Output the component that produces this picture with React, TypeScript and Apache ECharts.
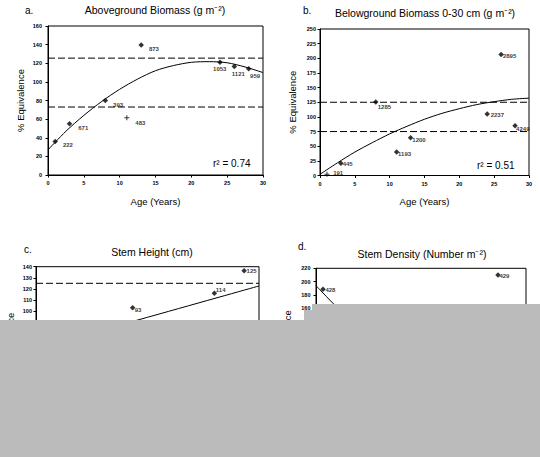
import React, { useEffect, useRef } from 'react';
import * as echarts from 'echarts';

// ---------- data ----------
const AGE_A = [1, 3, 8, 11, 13, 24, 26, 28];
const EQ_A = [36, 55, 80, 61.5, 139.7, 121, 116.5, 114];
const LBL_A = ['222', '671', '393', '483', '873', '1053', '1121', '959'];
const TREND_X_A = [0, 2.5, 5, 7.5, 10, 12.5, 15, 17.5, 20, 22.5, 25, 27.5, 30];
const TREND_A = [27, 47, 64, 79, 92, 103, 112, 117.5, 121, 121.7, 120.5, 116, 110];

const AGE_B = [1, 3, 8, 11, 13, 24, 26, 28];
const EQ_B = [2.3, 21, 125.6, 40, 64.5, 105, 206.6, 85];
const LBL_B = ['191', '445', '1285', '1193', '1200', '2237', '2895', '4249'];
const TREND_X_B = [0, 2.5, 5, 7.5, 10, 12.5, 15, 17.5, 20, 22.5, 25, 27.5, 30];
const TREND_B = [2, 21.6, 40, 56, 71, 84, 96, 106, 114, 121, 126, 130, 132];

const AGE_C = [13, 24, 28];
const EQ_C = [103, 116, 136.4];
const LBL_C = ['93', '114', '125'];
const TREND_X_C = [0, 30];
const TREND_C = [66, 122.6];

const AGE_D = [1, 26];
const EQ_D = [188.5, 210];
const LBL_D = ['428', '429'];
const TREND_X_D = [0, 1, 3, 6, 10, 20, 30];
const TREND_D = [194, 183, 162, 140, 120, 105, 100];

const EQUIV_LEVELS = [125, 75];
const EQUIV_LEVELS_A = [125.5, 73];

const Y_MAX = [160, 250, 140, 220];
const Y_STEP = [20, 25, 10, 20];

const TITLES = [
  'Aboveground Biomass (g m⁻²)',
  'Belowground Biomass 0-30 cm (g m⁻²)',
  'Stem Height (cm)',
  'Stem Density (Number m⁻²)',
];
const LETTERS = ['a.', 'b.', 'c.', 'd.'];
const R2 = ['r² = 0.74', 'r² = 0.51'];

// ---------- layout / style ----------
const FONT = '"Liberation Sans", Arial, Helvetica, sans-serif';
const GRIDS = [
  { left: 48, top: 26, width: 215, height: 149 },
  { left: 320, top: 29, width: 209, height: 146.5 },
  { left: 36, top: 266.7, width: 223, height: 155 },
  { left: 316, top: 268.3, width: 210, height: 146.7 },
];
const Y_LABEL_MARGIN = [6, 4, 4, 5.5];
const Y_NAME_GAP = [23, 23, 21, 24];
const PLUS_POINTS: Record<number, number[]> = { 0: [3], 1: [0] };
const LABEL_OFFSETS = [
  [[5, 4], [6, 4], [5, 4], [6, 5], [5, 4], [-9.7, 7], [-5.3, 7], [-1.3, 7]],
  [[3.7, -1], [-1, 1.3], [-0.7, 5], [-1.3, 2.3], [-1, 2.7], [0.7, 1.3], [-1, 1.7], [-1.7, 3]],
  [[-0.7, 2.3], [-1.3, -3.3], [-0.3, 0]],
  [[-0.3, 0.7], [-1.3, 1]],
];
const TITLE_POS = [
  [155, 10],
  [425, 12.7],
  [152, 251.7],
  [422, 254.3],
];
const LETTER_POS = [
  [25, 10],
  [303, 10],
  [24, 249],
  [298, 246],
];
const R2_POS = [
  [213, 163],
  [477, 165.7],
];

const PLUS_PATH = 'path://M2,0H3V2H5V3H3V5H2V3H0V2H2Z';

const PANELS = [
  { age: AGE_A, eq: EQ_A, lbl: LBL_A, tx: TREND_X_A, ty: TREND_A, levels: EQUIV_LEVELS_A },
  { age: AGE_B, eq: EQ_B, lbl: LBL_B, tx: TREND_X_B, ty: TREND_B, levels: EQUIV_LEVELS },
  { age: AGE_C, eq: EQ_C, lbl: LBL_C, tx: TREND_X_C, ty: TREND_C, levels: EQUIV_LEVELS },
  { age: AGE_D, eq: EQ_D, lbl: LBL_D, tx: TREND_X_D, ty: TREND_D, levels: EQUIV_LEVELS },
];

function buildOption() {
  const grid = GRIDS.map((g) => ({
    ...g,
    show: true,
    borderColor: '#000',
    borderWidth: 1,
    backgroundColor: 'transparent',
    containLabel: false,
  }));

  const xAxis = GRIDS.map((_, i) => ({
    type: 'value',
    gridIndex: i,
    min: 0,
    max: 30,
    interval: 5,
    name: 'Age (Years)',
    nameLocation: 'middle',
    nameGap: 21,
    nameTextStyle: { fontSize: 9.5, color: '#000', fontFamily: FONT },
    axisLine: { show: true, onZero: false, lineStyle: { color: '#000', width: 1 } },
    axisTick: { show: true, inside: false, length: 2.5, lineStyle: { color: '#000', width: 1 } },
    axisLabel: { fontSize: 5.5, color: '#000', margin: 5, fontWeight: 'bold', fontFamily: FONT },
    splitLine: { show: false },
  }));

  const yAxis = GRIDS.map((_, i) => ({
    type: 'value',
    gridIndex: i,
    min: 0,
    max: Y_MAX[i],
    interval: Y_STEP[i],
    name: '% Equivalence',
    nameLocation: 'middle',
    nameRotate: 90,
    nameGap: Y_NAME_GAP[i],
    nameTextStyle: { fontSize: 9.5, color: '#000', fontFamily: FONT },
    axisLine: { show: true, onZero: false, lineStyle: { color: '#000', width: 1 } },
    axisTick: { show: true, inside: false, length: 2.5, lineStyle: { color: '#000', width: 1 } },
    axisLabel: { fontSize: 5.5, color: '#000', margin: Y_LABEL_MARGIN[i], fontWeight: 'bold', fontFamily: FONT },
    splitLine: { show: false },
  }));

  const series: any[] = [];
  PANELS.forEach((p, i) => {
    p.levels.forEach((lv) => {
      series.push({
        type: 'line',
        xAxisIndex: i,
        yAxisIndex: i,
        data: [
          [0, lv],
          [30, lv],
        ],
        symbol: 'none',
        silent: true,
        lineStyle: { color: '#000', width: 1, type: [7, 3] },
        z: 2,
      });
    });
    series.push({
      type: 'line',
      xAxisIndex: i,
      yAxisIndex: i,
      data: p.tx.map((x, k) => [x, p.ty[k]]),
      smooth: 0.3,
      symbol: 'none',
      silent: true,
      lineStyle: { color: '#000', width: 1 },
      z: 3,
    });
    const plus = PLUS_POINTS[i] || [];
    series.push({
      type: 'scatter',
      xAxisIndex: i,
      yAxisIndex: i,
      z: 4,
      data: p.age.map((x, k) => {
        const isPlus = plus.includes(k);
        return {
          value: [x, p.eq[k]],
          symbol: isPlus ? PLUS_PATH : 'diamond',
          symbolSize: isPlus ? 5 : 5.5,
          label: {
            show: true,
            formatter: p.lbl[k],
            position: 'right',
            distance: 0,
            offset: LABEL_OFFSETS[i][k],
            fontSize: 6,
            fontWeight: 'bold',
            color: '#000',
            fontFamily: FONT,
          },
        };
      }),
      itemStyle: { color: '#000' },
    });
  });

  const graphicEls: any[] = [];
  TITLES.forEach((t, i) => {
    graphicEls.push({
      type: 'text',
      x: TITLE_POS[i][0],
      y: TITLE_POS[i][1],
      z: 10,
      style: {
        text: t,
        fontSize: 10.5,
        fontFamily: FONT,
        fill: '#000',
        align: 'center',
        verticalAlign: 'middle',
      },
    });
    graphicEls.push({
      type: 'text',
      x: LETTER_POS[i][0],
      y: LETTER_POS[i][1],
      z: 10,
      style: {
        text: LETTERS[i],
        fontSize: 10,
        fontFamily: FONT,
        fill: '#000',
        align: 'left',
        verticalAlign: 'middle',
      },
    });
  });
  R2.forEach((t, i) => {
    graphicEls.push({
      type: 'text',
      x: R2_POS[i][0],
      y: R2_POS[i][1],
      z: 10,
      style: {
        text: t,
        fontSize: 10,
        fontFamily: FONT,
        fill: '#000',
        align: 'left',
        verticalAlign: 'middle',
      },
    });
  });
  graphicEls.push({
    type: 'polygon',
    z: 100,
    shape: {
      points: [
        [312, 304],
        [540, 304],
        [540, 457],
        [0, 457],
        [0, 320],
        [304, 320],
        [304, 310],
        [312, 310],
      ],
    },
    style: { fill: '#bbbbbb', stroke: 'none' },
  });

  return {
    animation: false,
    backgroundColor: '#fff',
    textStyle: { fontFamily: FONT },
    grid,
    xAxis,
    yAxis,
    series,
    graphic: { elements: graphicEls },
  };
}

export default function App() {
  const ref = useRef<HTMLDivElement>(null);
  useEffect(() => {
    if (!ref.current) return;
    const chart = echarts.init(ref.current, null, { renderer: 'svg' });
    chart.setOption(buildOption() as any);
    return () => chart.dispose();
  }, []);
  return (
    <div
      ref={ref}
      style={{ position: 'absolute', left: 0, top: 0, width: 540, height: 457 }}
    />
  );
}
